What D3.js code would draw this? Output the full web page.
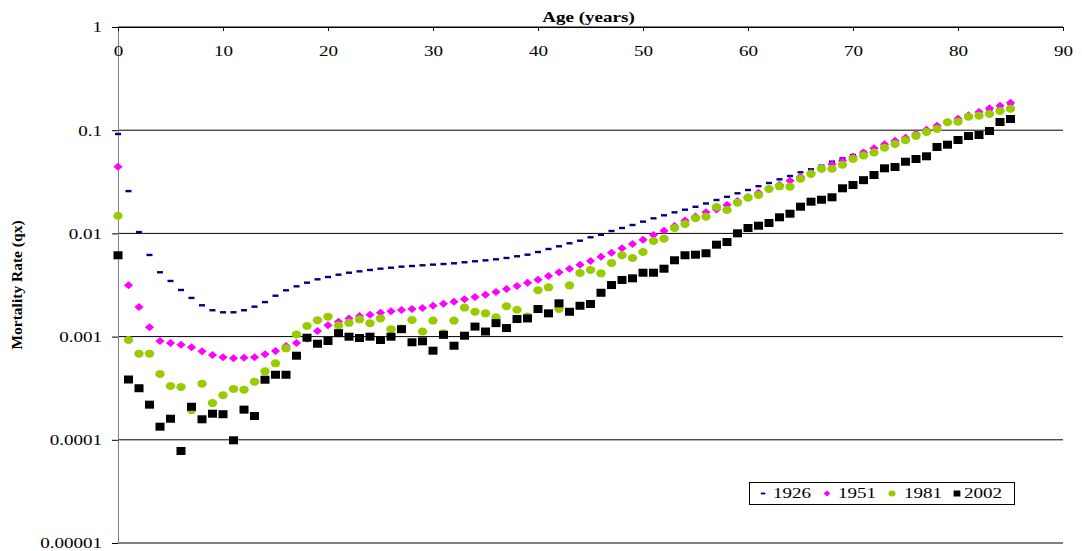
<!DOCTYPE html>
<html>
<head>
<meta charset="utf-8">
<script src="https://cdn.jsdelivr.net/npm/d3@7"></script>
<style>
  body { margin: 0; background: #fff; }
  svg { display: block; }
  text { font-family: "Liberation Serif", "Times New Roman", serif; }
</style>
</head>
<body>
<div id="chart"></div>
<script>

// ages 0..85 on the horizontal axis
var ages = d3.range(0, 86);
var years = ["1926", "1951", "1981", "2002"];
var xTicks = [0, 10, 20, 30, 40, 50, 60, 70, 80, 90];
var yTicks = [1, 0.1, 0.01, 0.001, 0.0001, 0.00001];
var yTickLabels = ["1", "0.1", "0.01", "0.001", "0.0001", "0.00001"];

var q1926 = [0.0919, 0.0257, 0.0103, 0.00618, 0.0042, 0.00346, 0.00283, 0.00237, 0.00201, 0.0018,
  0.00172, 0.00172, 0.0018, 0.00195, 0.00216, 0.00249, 0.00281, 0.00307, 0.00333, 0.00359,
  0.00378, 0.00398, 0.00416, 0.00429, 0.00442, 0.00455, 0.00465, 0.00476, 0.00483, 0.00491,
  0.00498, 0.00505, 0.00513, 0.00525, 0.00537, 0.00548, 0.00561, 0.00578, 0.006, 0.00622,
  0.0066, 0.00706, 0.0075, 0.00802, 0.0085, 0.00917, 0.0097, 0.01055, 0.01128, 0.01206,
  0.013, 0.014, 0.01497, 0.016, 0.01697, 0.01811, 0.01949, 0.02107, 0.02262, 0.02446,
  0.02633, 0.02867, 0.03079, 0.03343, 0.036, 0.03909, 0.04179, 0.04529, 0.04952, 0.0534,
  0.05749, 0.06187, 0.06647, 0.07189, 0.07771, 0.08346, 0.0908, 0.09867, 0.1079, 0.1161,
  0.1256, 0.1358, 0.1462, 0.1576, 0.1678, 0.1782];

var q1951 = [0.0443, 0.00314, 0.00194, 0.00123, 0.000907, 0.000867, 0.000835, 0.000788, 0.000721, 0.000663,
  0.00063, 0.000616, 0.000625, 0.00063, 0.000674, 0.000725, 0.000811, 0.000867, 0.000954, 0.00113,
  0.00129, 0.00139, 0.0015, 0.00158, 0.00163, 0.0017, 0.00176, 0.00181, 0.00185, 0.00189,
  0.00199, 0.00208, 0.00218, 0.0023, 0.00242, 0.00255, 0.0027, 0.00289, 0.00309, 0.00333,
  0.00356, 0.00387, 0.0042, 0.00455, 0.00497, 0.0054, 0.00594, 0.0065, 0.00717, 0.00789,
  0.00869, 0.00965, 0.01062, 0.0118, 0.01334, 0.01458, 0.01601, 0.01704, 0.01884, 0.0206,
  0.02253, 0.0248, 0.02705, 0.02957, 0.0324, 0.03535, 0.03866, 0.04234, 0.04672, 0.05085,
  0.05561, 0.06079, 0.06678, 0.07302, 0.07912, 0.08459, 0.09249, 0.1011, 0.1106, 0.1193,
  0.1292, 0.1394, 0.1501, 0.1631, 0.1728, 0.1847];

var q1981 = [0.01484, 0.000927, 0.000683, 0.000683, 0.000434, 0.000332, 0.000325, 0.000194, 0.00035, 0.000227,
  0.00027, 0.000311, 0.000306, 0.000366, 0.000461, 0.000551, 0.00077, 0.00105, 0.00127, 0.00144,
  0.00156, 0.00128, 0.00136, 0.00147, 0.00135, 0.0015, 0.00118, 0.0012, 0.00145, 0.00112,
  0.00143, 0.00108, 0.00143, 0.00191, 0.00174, 0.00168, 0.00154, 0.00197, 0.00182, 0.00157,
  0.00281, 0.003, 0.00185, 0.00314, 0.00413, 0.00442, 0.0041, 0.00517, 0.00614, 0.00578,
  0.0066, 0.00844, 0.00889, 0.01128, 0.01234, 0.01404, 0.01451, 0.01803, 0.01686, 0.01983,
  0.02218, 0.02355, 0.02693, 0.0286, 0.02835, 0.03388, 0.03763, 0.04234, 0.04234, 0.0463,
  0.05259, 0.05685, 0.06079, 0.06753, 0.07351, 0.07983, 0.08824, 0.09607, 0.1027, 0.1193,
  0.1209, 0.1351, 0.1381, 0.1435, 0.1535, 0.1615];

var q2002 = [0.00614, 0.000384, 0.000316, 0.000219, 0.000134, 0.00016, 0.0000779, 0.000209, 0.000158, 0.000179,
  0.000177, 0.0000989, 0.000196, 0.00017, 0.000382, 0.000427, 0.000427, 0.000653, 0.000976, 0.000853,
  0.000907, 0.00108, 0.000998, 0.000969, 0.000998, 0.000927, 0.000998, 0.00118, 0.000881, 0.0009,
  0.00073, 0.00104, 0.000816, 0.00102, 0.00125, 0.00112, 0.00135, 0.00121, 0.00148, 0.0015,
  0.00185, 0.00168, 0.0021, 0.00174, 0.00199, 0.00207, 0.00266, 0.00316, 0.00354, 0.00367,
  0.00416, 0.00416, 0.00455, 0.00549, 0.00614, 0.00622, 0.00642, 0.00777, 0.00825, 0.01002,
  0.01128, 0.01187, 0.01261, 0.01432, 0.01552, 0.01815, 0.02029, 0.0212, 0.02238, 0.02735,
  0.02944, 0.0328, 0.0368, 0.04272, 0.04398, 0.04952, 0.05259, 0.05585, 0.06874, 0.07237,
  0.08035, 0.08787, 0.08984, 0.09822, 0.1201, 0.1284];

var W = 1082, H = 551;
var plotL = 118, plotR = 1063, plotT = 27, plotB = 543;
var SX = 1.27; // the original text is a bit wide

var x = d3.scaleLinear().domain([0, 90]).range([plotL, plotR]);
var y = d3.scaleLog().domain([0.00001, 1]).range([plotB, plotT]);

var svg = d3.select("#chart").append("svg")
    .attr("width", W)
    .attr("height", H);

// horizontal gridlines
svg.append("g")
  .selectAll("line")
  .data(yTicks)
  .enter().append("line")
    .attr("x1", plotL)
    .attr("x2", plotR)
    .attr("y1", function(d) { return y(d); })
    .attr("y2", function(d) { return y(d); })
    .attr("stroke", "#000")
    .attr("stroke-width", 1);

// y axis
var yg = svg.append("g")
    .attr("transform", "translate(" + plotL + ",0)")
    .call(d3.axisLeft(y)
      .tickValues(yTicks)
      .tickFormat(function(d, i) { return yTickLabels[i]; })
      .tickSize(6)
      .tickSizeOuter(0));
yg.attr("font-size", 15).attr("font-family", null);
yg.select(".domain").attr("stroke", "#808080");
yg.selectAll("text")
    .attr("x", -16 / SX)
    .attr("fill", "#000")
    .attr("transform", "scale(" + SX + ",1)");

// x axis, drawn along the top
var xg = svg.append("g")
    .attr("transform", "translate(0," + plotT + ")")
    .call(d3.axisBottom(x)
      .tickValues(xTicks)
      .tickSize(4)
      .tickSizeOuter(0)
      .tickPadding(14));
xg.attr("font-size", 15).attr("font-family", null);
xg.select(".domain").attr("stroke", "#000");
xg.selectAll("text")
    .attr("fill", "#000")
    .attr("transform", "scale(" + SX + ",1)");

// titles
svg.append("text")
    .attr("transform", "translate(" + ((plotL + plotR) / 2 - 2) + ",21.5) scale(" + SX + ",1)")
    .attr("text-anchor", "middle")
    .attr("font-size", 15)
    .attr("font-weight", "bold")
    .text("Age (years)");

svg.append("text")
    .attr("transform", "translate(22,285) rotate(-90)")
    .attr("text-anchor", "middle")
    .attr("font-size", 15.5)
    .attr("font-weight", "bold")
    .text("Mortality Rate (qx)");

// marker shapes
function drawMarker(g, shape, cx, cy, s) {
  if (shape == "dash") {
    g.append("rect")
      .attr("x", cx - 3 * s).attr("y", cy - 1.2 * s)
      .attr("width", 6 * s).attr("height", 2.4 * s)
      .attr("fill", "#000080");
  } else if (shape == "diamond") {
    g.append("path")
      .attr("d", "M" + cx + "," + (cy - 4 * s) + "L" + (cx + 4.6 * s) + "," + cy +
                 "L" + cx + "," + (cy + 4 * s) + "L" + (cx - 4.6 * s) + "," + cy + "Z")
      .attr("fill", "#ff00ff");
  } else if (shape == "circle") {
    g.append("ellipse")
      .attr("cx", cx).attr("cy", cy)
      .attr("rx", 4.7 * s).attr("ry", 4 * s)
      .attr("fill", "#99cc00");
  } else {
    g.append("rect")
      .attr("x", cx - 4.5 * s).attr("y", cy - 4 * s)
      .attr("width", 9 * s).attr("height", 8 * s)
      .attr("fill", "#000");
  }
}

var series = [
  { name: years[0], values: q1926, shape: "dash" },
  { name: years[1], values: q1951, shape: "diamond" },
  { name: years[2], values: q1981, shape: "circle" },
  { name: years[3], values: q2002, shape: "square" }
];

series.forEach(function(s) {
  var g = svg.append("g");
  for (var i = 0; i < ages.length; i++) {
    drawMarker(g, s.shape, x(ages[i]), y(s.values[i]), 1);
  }
});

// legend
var lg = svg.append("g");
lg.append("rect")
    .attr("x", 749.5).attr("y", 482.5)
    .attr("width", 265).attr("height", 22)
    .attr("fill", "#fff")
    .attr("stroke", "#000");

var legendMarkX = [763, 827, 892, 957];
var legendTextX = [773, 838, 904, 964];
series.forEach(function(s, i) {
  drawMarker(lg, s.shape, legendMarkX[i], 493.5, 0.75);
  lg.append("text")
    .attr("transform", "translate(" + legendTextX[i] + ",498) scale(" + SX + ",1)")
    .attr("font-size", 15)
    .text(s.name);
});

</script>
</body>
</html>
